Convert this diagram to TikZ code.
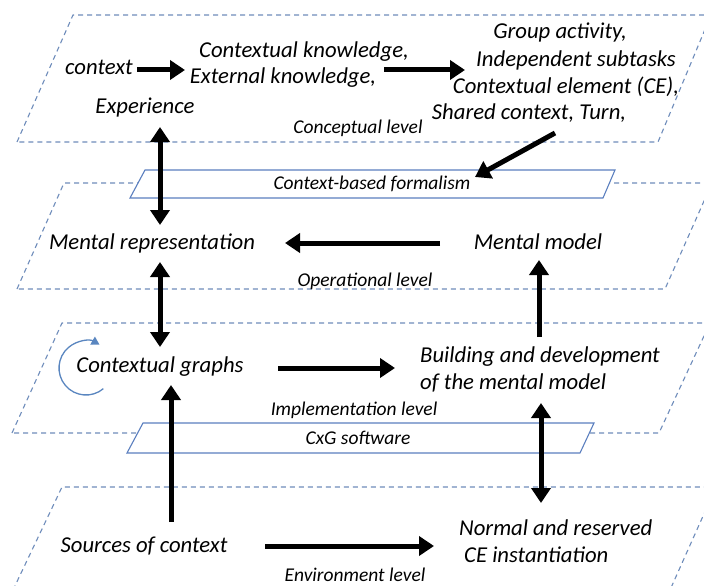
\documentclass[tikz,border=0pt]{standalone}
\usepackage{fontspec}
\setmainfont{Carlito}
\usetikzlibrary{arrows.meta,calc}
\definecolor{planeblue}{HTML}{6F8DBB}
\definecolor{boxblue}{HTML}{5B7FBF}
\definecolor{loopblue}{HTML}{5A86C0}
\begin{document}
\begin{tikzpicture}[x=1pt,y=-1pt,
 plane/.style={draw=planeblue,dash pattern=on 5pt off 4pt,line width=1.1pt},
 band/.style={draw=boxblue,fill=white,line width=1.1pt},
 lbl/.style={font=\fontsize{22.7}{26}\selectfont\itshape,inner sep=0pt},
 lvl/.style={font=\fontsize{19.5}{22}\selectfont\itshape,inner sep=0pt},
 arr/.style={line width=5pt,-{Triangle[length=15pt,width=19pt]}},
 darr/.style={line width=5pt,{Triangle[length=15pt,width=19pt]}-{Triangle[length=15pt,width=19pt]}},
]
\useasboundingbox (0,0) rectangle (704,586);
\fill[white] (0,0) rectangle (704,586);
\begin{scope}
\clip (0,0) rectangle (704,586);
% planes
\draw[plane] (17,142) -- (73,15) -- (711,15) -- (658,142) -- cycle;
\draw[plane] (17,289) -- (64,183) -- (712,183) -- (665,289) -- cycle;
\draw[plane] (12,433) -- (62,323) -- (710,323) -- (659,433) -- cycle;
\draw[plane] (13,590) -- (62,487) -- (716,487) -- (670,590) -- cycle;
\end{scope}
% solid bands
\draw[band] (145,170) -- (615,170) -- (603,198) -- (130,198) -- cycle;
\draw[band] (143,423) -- (594,423) -- (580,453) -- (127,453) -- cycle;
% texts
\node[lbl] (ctx) at (99,67) {context};
\node[lbl] (ck) at (304,52) {Contextual knowledge,};
\node[lbl] (ek) at (283,78) {External knowledge,};
\node[lbl] (ga) at (560,32) {Group activity,};
\node[lbl] (is) at (576,60) {Independent subtasks};
\node[lbl] (ce) at (566,87) {Contextual element (CE),};
\node[lbl] (sc) at (529,113) {Shared context, Turn,};
\node[lbl] (exp) at (145,108) {Experience};
\node[lvl] (lc) at (358,128) {Conceptual level};
\node[lvl] (cbf) at (372,184) {Context-based formalism};
\node[lbl] (mr) at (152,243) {Mental representation};
\node[lbl] (mm) at (538,242) {Mental model};
\node[lvl] (lo) at (365,281) {Operational level};
\node[lbl] (cg) at (160,367) {Contextual graphs};
\node[lbl,anchor=west] (bd1) at (420,357) {Building and development};
\node[lbl,anchor=west] (bd2) at (420,383) {of the mental model};
\node[lvl] (li) at (354,410) {Implementation level};
\node[lvl] (cxg) at (358,438) {CxG software};
\node[lbl] (src) at (144,546) {Sources of context};
\node[lbl,anchor=west] (nr1) at (459,528) {Normal and reserved};
\node[lbl,anchor=west] (nr2) at (464,555) {CE instantiation};
\node[lvl] (le) at (355,575) {Environment level};
% arrows (offsets in picture pixels, y downward)
\draw[arr] ($(ctx)+(38,3)$) -- ($(ek)+(-98,-8)$);
\draw[arr] ($(ck)+(80,18)$) -- ($(ce)+(-101,-17)$);
\draw[arr] ($(sc)+(26,20)$) -- ($(cbf)+(103,-7)$);
\draw[darr] ($(exp)+(15,19)$) -- ($(mr)+(8,-18)$);
\draw[arr] ($(mm)+(-98,1)$) -- ($(mr)+(133,0)$);
\draw[darr] ($(mr)+(8,19)$) -- ($(cg)+(0,-20)$);
\draw[arr] ($(bd1.west)+(119,-20)$) -- ($(mm)+(1,18)$);
\draw[arr] ($(cg)+(118,1)$) -- ($(bd1.west)+(-25,11)$);
\draw[darr] ($(bd2.west)+(121,20)$) -- ($(nr1.west)+(82,-25)$);
\draw[arr] ($(src)+(27,-24)$) -- ($(cg)+(11,18)$);
\draw[arr] ($(src)+(121,0)$) -- ($(nr1.west)+(-25,18)$);
% loop
\draw[loopblue,line width=1.3pt,-{Triangle[length=8pt,width=9pt]}] (86,368) ++(50:27) arc[start angle=50,end angle=300,radius=27];
\end{tikzpicture}
\end{document}
